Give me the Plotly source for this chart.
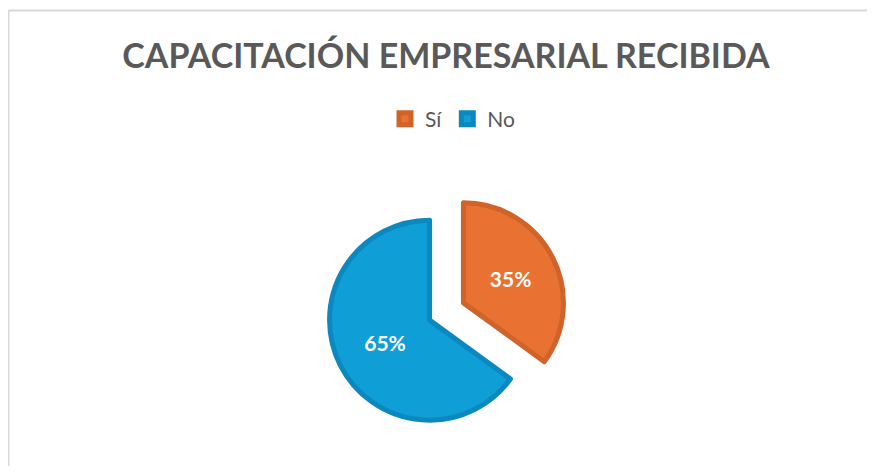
import plotly.graph_objects as go

labels = ["Sí", "No"]
values = [35, 65]
fill_colors = ["#E97132", "#0F9ED5"]
edge_colors = ["#D0632A", "#0B89BE"]

# page body adds an 8px margin, so the figure is 16px smaller than the window
W, H = 859, 458

fig = go.Figure(
    go.Pie(
        labels=labels,
        values=values,
        sort=False,
        direction="clockwise",
        rotation=0,
        pull=[0.19, 0.19],
        marker=dict(colors=fill_colors, line=dict(color=edge_colors, width=5)),
        texttemplate="%{percent:.0%}",
        textposition="inside",
        insidetextorientation="horizontal",
        textfont=dict(family="Lato", size=21, color="white", weight="bold"),
        domain=dict(x=[319.5 / W, 557.5 / W], y=[1 - 422.5 / H, 1 - 184.5 / H]),
        hoverinfo="label+percent",
    )
)

fig.update_layout(
    width=W,
    height=H,
    margin=dict(l=0, r=0, t=0, b=0),
    paper_bgcolor="white",
    plot_bgcolor="white",
    title=dict(
        text="<b>CAPACITACIÓN EMPRESARIAL RECIBIDA</b>",
        x=438 / W, xanchor="center",
        y=1 - 48 / H, yanchor="middle",
        font=dict(family="Lato", size=34, color="#595959"),
    ),
    legend=dict(
        orientation="h",
        x=445 / W, xanchor="center",
        y=1 - 111 / H, yanchor="middle",
        font=dict(family="Lato", size=21, color="#595959"),
        itemwidth=30,
    ),
    shapes=[
        dict(type="line", xref="paper", yref="paper",
             x0=0.5 / W, x1=1.0, y0=1 - 2.5 / H, y1=1 - 2.5 / H,
             line=dict(color="#D9D9D9", width=2)),
        dict(type="line", xref="paper", yref="paper",
             x0=0.5 / W, x1=0.5 / W, y0=0, y1=1 - 2.5 / H,
             line=dict(color="#D9D9D9", width=2)),
    ],
)

fig.write_html("out.html")
